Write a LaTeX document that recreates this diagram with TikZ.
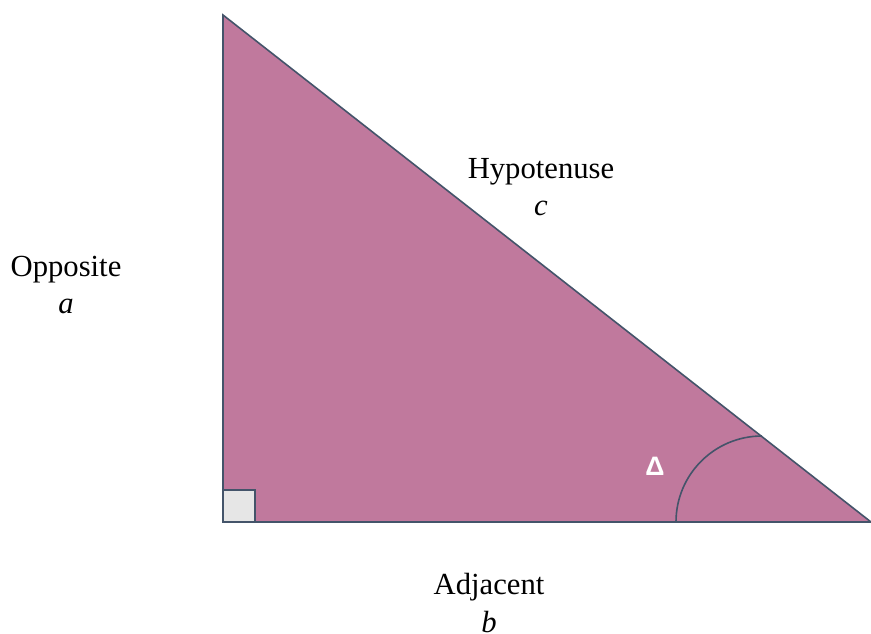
\documentclass[tikz,border=0pt]{standalone}
\usepackage{fontspec}
\setmainfont{Liberation Serif}
\newfontfamily\deltafont{Liberation Sans}
\usepackage{xcolor}
\usetikzlibrary{positioning,calc}
\definecolor{trifill}{HTML}{C0799D}
\definecolor{triline}{HTML}{44546A}
\definecolor{sqfill}{HTML}{E6E6E6}

\begin{document}
\begin{tikzpicture}[
  x=0.75pt, y=-0.75pt,
  side/.style={draw=triline, line width=1.2pt, line join=miter},
  lb/.style={align=center, font=\fontsize{23}{28}\selectfont, inner sep=0pt},
  ang/.style={font=\deltafont\bfseries\fontsize{20}{24}\selectfont, text=white, inner sep=0pt}
]
\useasboundingbox (0,0) rectangle (871,633);
% corners of the triangle
\coordinate (top) at (223,15);
\coordinate (rgt) at (223,522);
\coordinate (end) at (871,522);
\coordinate (arcc) at (762,522);
\fill[trifill] (top) -- (rgt) -- (end) -- cycle;
\draw[side] (end) -- (top) -- (rgt) -- (end);
% right angle mark
\draw[side, fill=sqfill] (rgt) rectangle ++(32,-32);
% angle arc
\draw[side] ($(arcc)+(-86,0)$) arc[start angle=180, end angle=270, radius=86];
\node[ang] (delta) at (655,466) {Δ};
% labels
\node[lb] (hyp) at (541,187) {Hypotenuse\\\textit{c}};
\node[lb] (opp) at (66,285) {Opposite\\\textit{a}};
\node[lb] (adj) at (489,603) {Adjacent\\\textit{b}};
\end{tikzpicture}
\end{document}
